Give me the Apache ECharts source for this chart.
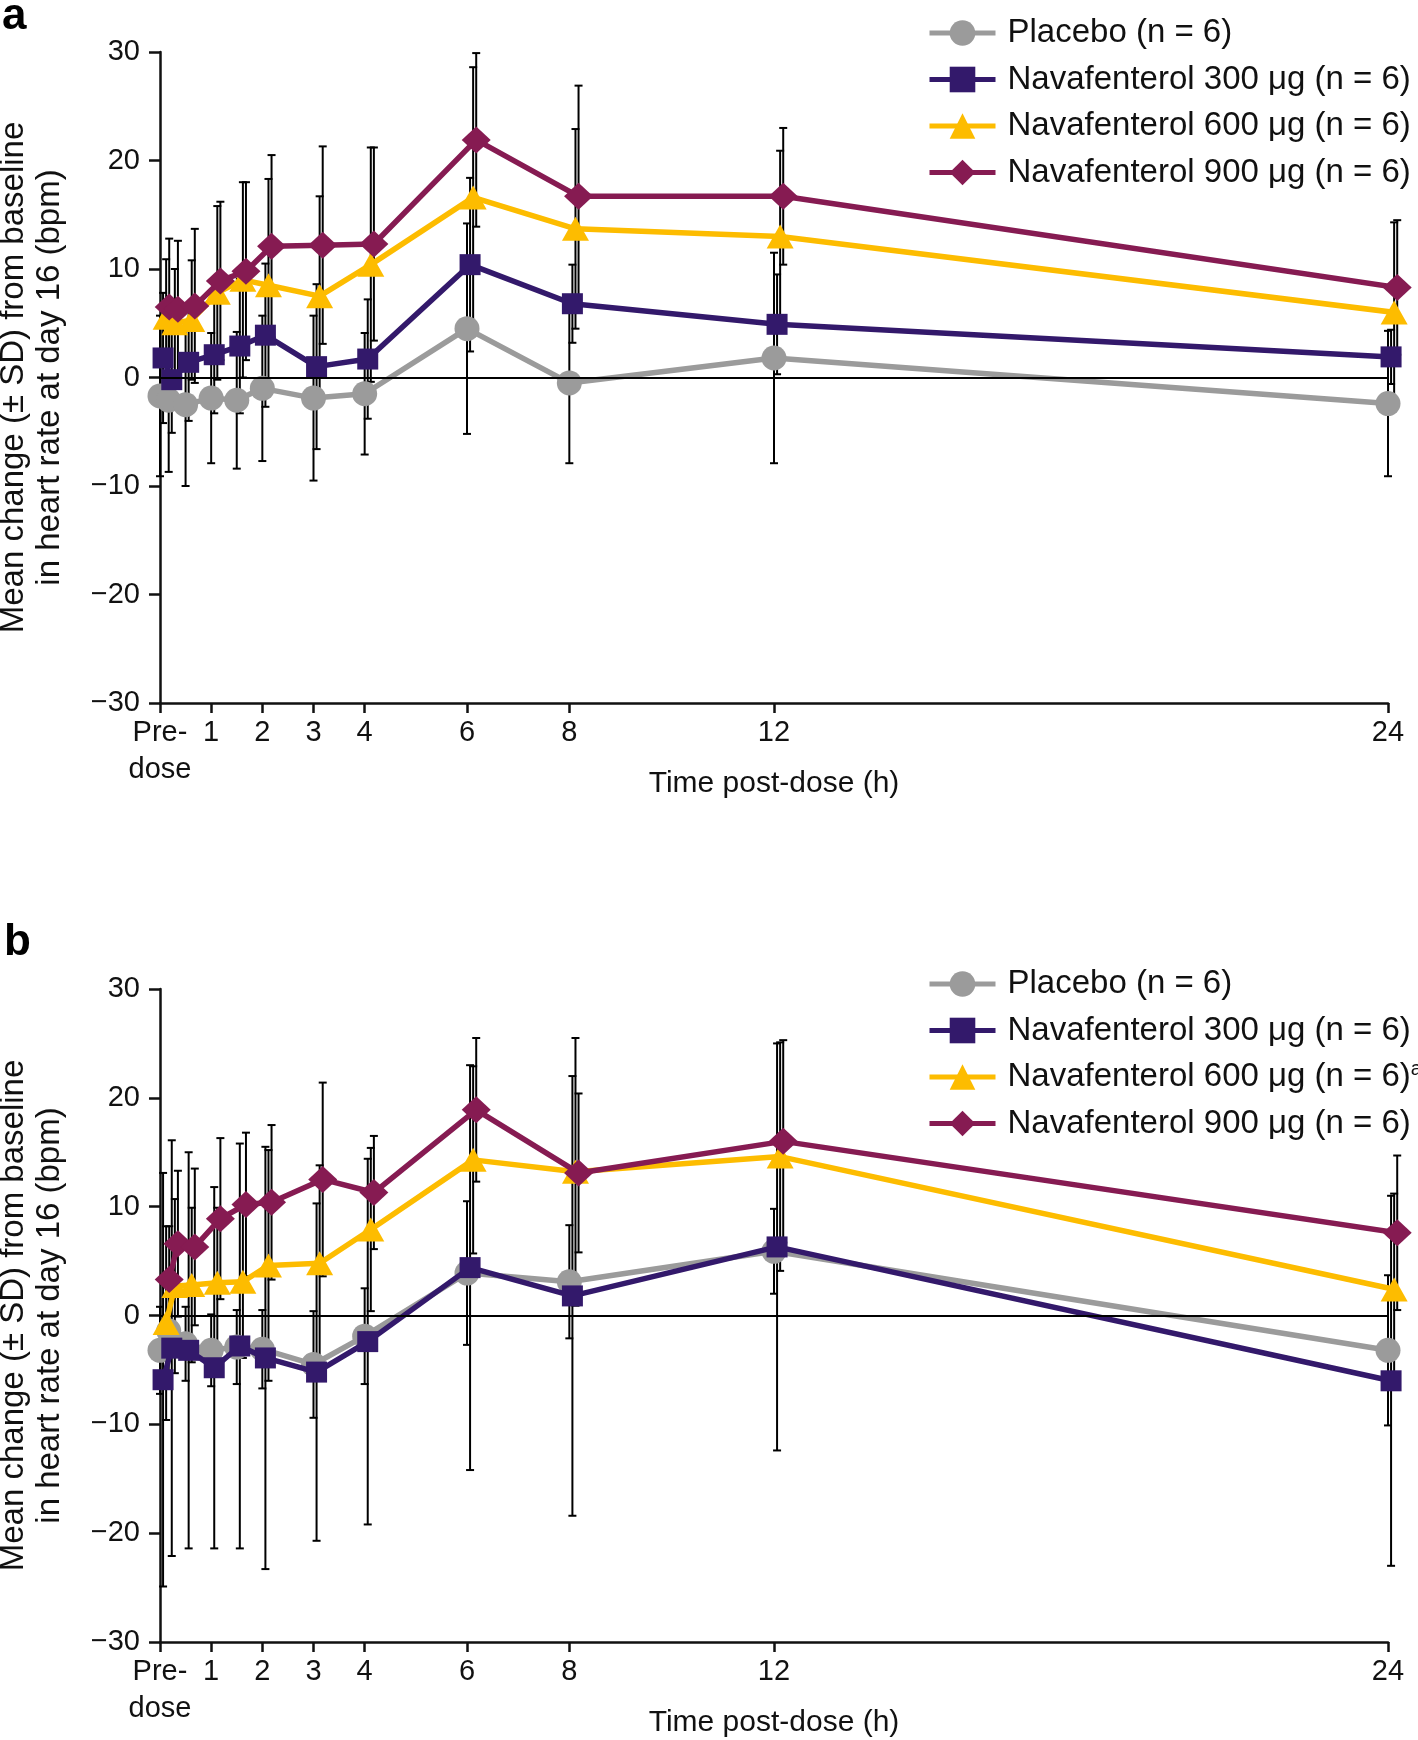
<!DOCTYPE html>
<html><head><meta charset="utf-8">
<script src="https://cdn.jsdelivr.net/npm/echarts@6/dist/echarts.min.js"></script>
<style>html,body{margin:0;padding:0;background:#fff}#c{width:1418px;height:1740px}</style>
</head><body><div id="c"></div>
<script>
// ---------- data ----------
const times = [0, 0.17, 0.5, 1, 1.5, 2, 3, 4, 6, 8, 12, 24];
const xTickValues = [0, 1, 2, 3, 4, 6, 8, 12, 24];
const xTickLabels = ['Pre-\ndose', '1', '2', '3', '4', '6', '8', '12', '24'];
const seriesNames = ['Placebo (n = 6)', 'Navafenterol 300 μg (n = 6)', 'Navafenterol 600 μg (n = 6)', 'Navafenterol 900 μg (n = 6)'];

// panel a (means and SD)
const placeboA   = [-1.7, -2.1, -2.5, -1.9, -2.1, -1.0, -1.9, -1.5, 4.5, -0.5, 1.8, -2.4];
const placeboASD = [7.4, 6.6, 7.5, 6.0, 6.3, 6.7, 7.6, 5.6, 9.7, 7.4, 9.7, 6.7];
const nav300A    = [1.8, -0.2, 1.4, 2.1, 2.9, 3.9, 1.0, 1.7, 10.4, 6.8, 4.9, 1.9];
const nav300ASD  = [6.0, 4.9, 5.4, 5.4, 6.2, 6.6, 7.6, 5.5, 8.0, 3.6, 4.6, 2.5];
const nav600A    = [5.5, 5.0, 5.3, 7.8, 9.0, 8.5, 7.5, 10.4, 16.6, 13.7, 13.0, 6.0];
const nav600ASD  = [5.4, 5.0, 5.5, 8.0, 9.0, 9.8, 9.2, 10.8, 12.0, 9.2, 7.9, 8.3];
const nav900A    = [6.5, 6.3, 6.6, 8.9, 9.8, 12.1, 12.2, 12.3, 21.9, 16.7, 16.7, 8.3];
const nav900ASD  = [6.3, 6.3, 7.1, 7.3, 8.2, 8.4, 9.1, 8.9, 8.0, 10.2, 6.3, 6.2];

// panel b (means and SD)
const placeboB   = [-3.2, -1.4, -2.6, -3.2, -2.9, -3.1, -4.5, -1.9, 3.9, 3.1, 5.9, -3.2];
const placeboBSD = [4.0, 3.9, 3.4, 3.3, 3.4, 3.6, 4.9, 4.4, 6.6, 5.2, 3.9, 6.9];
const nav300B    = [-5.9, -3.0, -3.2, -4.8, -2.8, -3.9, -5.2, -2.4, 4.4, 1.8, 6.3, -6.0];
const nav300BSD  = [19.0, 19.1, 18.2, 16.6, 18.6, 19.4, 15.5, 16.8, 18.6, 20.2, 18.7, 17.0];
const nav600B    = [-0.7, 2.7, 2.8, 3.0, 3.1, 4.6, 4.8, 7.9, 14.3, 13.2, 14.6, 2.4];
const nav600BSD  = [8.9, 8.0, 7.1, 6.9, 7.0, 10.6, 9.0, 7.5, 8.6, 12.3, 10.5, 8.8];
const nav900B    = [3.3, 6.6, 6.3, 8.9, 10.2, 10.4, 12.5, 11.3, 18.9, 13.1, 16.0, 7.6];
const nav900BSD  = [4.9, 6.7, 7.2, 7.4, 6.6, 7.1, 8.9, 5.2, 6.6, 7.3, 9.3, 7.1];

// ---------- styles ----------
const FONT = '"Liberation Sans", Arial, Helvetica, sans-serif';
const colors = ['#9b9b9b', '#33196b', '#fdbc00', '#861b52'];
const symbols = ['circle', 'rect', 'triangle', 'diamond'];
const symbolSizes = [25, 21, [27, 24], [29, 27]];
const dodge = 0.06; // small horizontal offset per group (hours)

const chart = echarts.init(document.getElementById('c'), null, {renderer: 'canvas'});

function errRender(params, api) {
  const x = api.value(0), lo = api.value(1), hi = api.value(2);
  const a = api.coord([x, lo]), b = api.coord([x, hi]);
  const hw = 4;
  const st = {stroke: '#000', lineWidth: 2};
  return {type: 'group', children: [
    {type: 'line', shape: {x1: a[0], y1: a[1], x2: b[0], y2: b[1]}, style: st},
    {type: 'line', shape: {x1: b[0] - hw, y1: b[1], x2: b[0] + hw, y2: b[1]}, style: st},
    {type: 'line', shape: {x1: a[0] - hw, y1: a[1], x2: a[0] + hw, y2: a[1]}, style: st}
  ]};
}

function panelSeries(idx, means, sds) {
  const out = [];
  means.forEach((m, i) => {
    const off = i * dodge;
    out.push({
      type: 'custom', xAxisIndex: idx, yAxisIndex: idx, clip: false, z: 1,
      renderItem: errRender, silent: true,
      encode: {x: 0, y: [1, 2]},
      data: times.map((t, j) => [t + off, m[j] - sds[i][j], m[j] + sds[i][j]]),
      markLine: i === 0 ? {
        silent: true, symbol: ['none', 'none'], label: {show: false},
        lineStyle: {color: '#000', width: 2.2, type: 'solid'},
        emphasis: {disabled: true}, animation: false,
        data: [{yAxis: 0}]
      } : undefined
    });
  });
  means.forEach((m, i) => {
    const off = i * dodge;
    out.push({
      type: 'line', name: seriesNames[i], xAxisIndex: idx, yAxisIndex: idx,
      clip: false, z: 3 + i,
      symbol: symbols[i], symbolSize: symbolSizes[i], showAllSymbol: true,
      itemStyle: {color: colors[i], opacity: 1},
      lineStyle: {color: colors[i], width: 5.5},
      emphasis: {disabled: true},
      data: times.map((t, j) => [t + off, m[j]])
    });
  });
  return out;
}

function xAxisCfg(idx) {
  return {
    type: 'value', gridIndex: idx, min: 0, max: 24,
    name: 'Time post-dose (h)', nameLocation: 'middle', nameGap: 66, nameMoveOverlap: false,
    nameTextStyle: {fontFamily: FONT, fontSize: 30, color: '#111'},
    axisLine: {show: true, onZero: false, lineStyle: {color: '#111', width: 2.5}},
    axisTick: {show: true, inside: false, length: 10, customValues: xTickValues, lineStyle: {color: '#111', width: 2.5}},
    axisLabel: {
      show: true, margin: 11, customValues: xTickValues,
      fontFamily: FONT, fontSize: 29, color: '#111', lineHeight: 37,
      formatter: v => { const k = xTickValues.indexOf(v); return k >= 0 ? xTickLabels[k] : ''; }
    },
    splitLine: {show: false}
  };
}

function yAxisCfg(idx) {
  return {
    type: 'value', gridIndex: idx, min: -30, max: 30, interval: 10,
    name: 'Mean change (± SD) from baseline\nin heart rate at day 16 (bpm)',
    nameLocation: 'middle', nameRotate: 90, nameGap: 92, nameMoveOverlap: false,
    nameTextStyle: {fontFamily: FONT, fontSize: 33, color: '#111', lineHeight: 36, align: 'center'},
    axisLine: {show: true, onZero: false, lineStyle: {color: '#111', width: 2.5}},
    axisTick: {show: true, inside: false, length: 11, lineStyle: {color: '#111', width: 2.5}},
    axisLabel: {
      margin: 20, fontFamily: FONT, fontSize: 29, color: '#111',
      formatter: v => v < 0 ? '\u2212' + Math.abs(v) : String(v)
    },
    splitLine: {show: false}
  };
}

function legendCfg(top, sup) {
  return {
    orient: 'vertical', left: 927, top: top, padding: 0,
    itemWidth: 66, itemHeight: 32, itemGap: 10.5,
    data: seriesNames,
    lineStyle: {width: 5},
    formatter: name => (sup && name === seriesNames[2]) ? name + '{sup|a}' : name,
    textStyle: {
      fontFamily: FONT, fontSize: 33, color: '#111', lineHeight: 36, padding: [0, 0, 0, 7],
      rich: {sup: {fontFamily: FONT, fontSize: 20, color: '#111', verticalAlign: 'top', lineHeight: 36, padding: [0, 0, 0, 0]}}
    },
    selectedMode: false
  };
}

const option = {
  animation: false,
  backgroundColor: '#fff',
  grid: [
    {left: 160, top: 52, width: 1228, height: 651, outerBoundsMode: 'none', containLabel: false},
    {left: 160, top: 989, width: 1228, height: 653, outerBoundsMode: 'none', containLabel: false}
  ],
  xAxis: [xAxisCfg(0), xAxisCfg(1)],
  yAxis: [yAxisCfg(0), yAxisCfg(1)],
  legend: [legendCfg(15, false), legendCfg(966, true)],
  graphic: [
    {type: 'text', left: 2, top: -5, style: {text: 'a', font: 'bold 44px ' + FONT, fill: '#000'}},
    {type: 'text', left: 4, top: 921, style: {text: 'b', font: 'bold 44px ' + FONT, fill: '#000'}}
  ],
  series: [].concat(
    panelSeries(0, [placeboA, nav300A, nav600A, nav900A], [placeboASD, nav300ASD, nav600ASD, nav900ASD]),
    panelSeries(1, [placeboB, nav300B, nav600B, nav900B], [placeboBSD, nav300BSD, nav600BSD, nav900BSD])
  )
};
chart.setOption(option);
</script></body></html>
